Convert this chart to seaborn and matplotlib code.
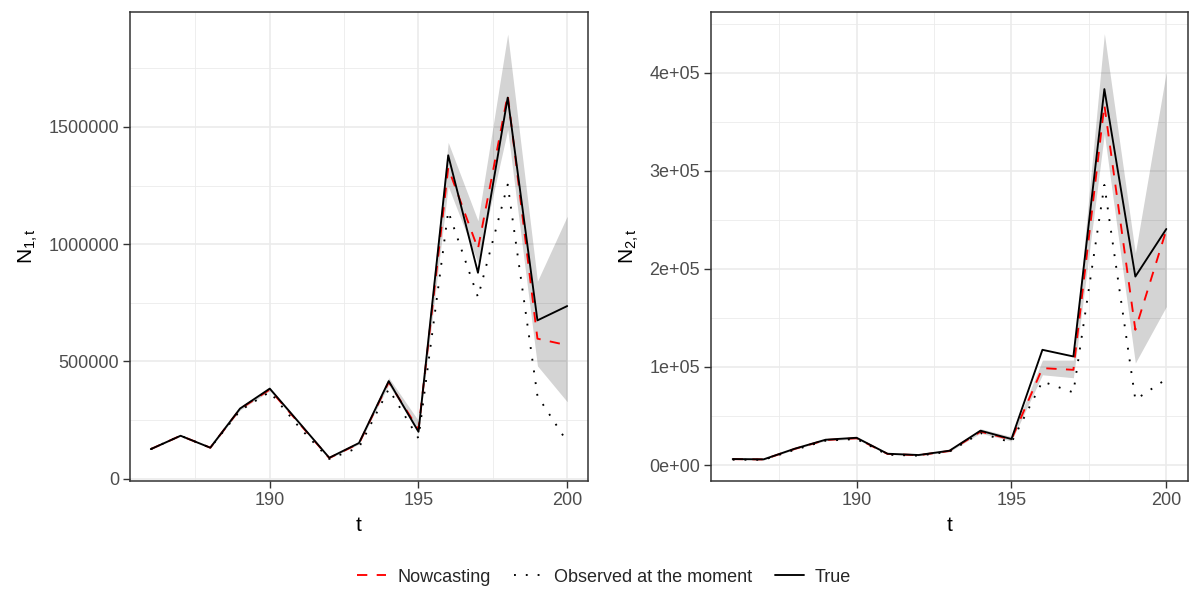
import numpy as np
import pandas as pd
import matplotlib
matplotlib.use("Agg")
import matplotlib.pyplot as plt
from matplotlib.lines import Line2D
from matplotlib.ticker import FixedLocator
import seaborn as sns

# ---------------- data ----------------
t = [186, 187, 188, 189, 190, 191, 192, 193, 194, 195, 196, 197, 198, 199, 200]

n1_true = [126000, 183000, 132000, 299000, 384000, 237000, 89000, 152000, 416000, 200000,
           1379000, 878000, 1625000, 675000, 736000]
n1_now = [126000, 183000, 132000, 297000, 380000, 234000, 88000, 150000, 412000, 210000,
          1325000, 980000, 1637000, 597000, 569000]
n1_obs = [126000, 183000, 132000, 290000, 370000, 218000, 84000, 133000, 382000, 172000,
          1140000, 774000, 1254000, 353000, 157000]
n1_lo = [124000, 181000, 130000, 292000, 375000, 230000, 86000, 147000, 400000, 195000,
         1247000, 920000, 1488000, 481000, 328000]
n1_hi = [128000, 185000, 134000, 302000, 386000, 239000, 91000, 155000, 431000, 247000,
         1434000, 1100000, 1896000, 842000, 1119000]

n2_true = [6100, 5800, 16600, 25800, 27800, 11500, 10200, 14600, 35000, 26500,
           117500, 110700, 383400, 192200, 240700]
n2_now = [6000, 5700, 16400, 25500, 27300, 11300, 10000, 14300, 34000, 26000,
          98800, 97100, 367100, 137900, 239700]
n2_obs = [5400, 5300, 15500, 24800, 26500, 10500, 9500, 13600, 32600, 23000,
          85200, 74000, 285600, 66600, 87600]
n2_lo = [5500, 5200, 15800, 24800, 26500, 10800, 9500, 13600, 32500, 24500,
         92000, 89000, 338000, 104000, 161600]
n2_hi = [6600, 6300, 17200, 26500, 28500, 12200, 10800, 15300, 37000, 29000,
         107000, 107000, 440000, 216000, 401000]

series_names = ["Nowcasting", "Observed at the moment", "True"]
y1_ticks = [0, 500000, 1000000, 1500000]
y1_labels = ["0", "500000", "1000000", "1500000"]
y2_ticks = [0, 100000, 200000, 300000, 400000]
y2_labels = ["0e+00", "1e+05", "2e+05", "3e+05", "4e+05"]
x_ticks = [190, 195, 200]

# ---------------- style ----------------
sns.set_theme(style="white")
plt.rcParams["font.family"] = ["Liberation Sans", "DejaVu Sans"]
plt.rcParams["mathtext.fontset"] = "custom"
plt.rcParams["mathtext.rm"] = "Liberation Sans"
plt.rcParams["mathtext.it"] = "Liberation Sans"

W, H = 1192, 592
fig = plt.figure(figsize=(W / 100, H / 100), dpi=100)

colors = {"Nowcasting": "#FF0000", "Observed at the moment": "black", "True": "black"}
styles = {"Nowcasting": (0, (5.5, 5)), "Observed at the moment": (0, (1, 5.3)), "True": "-"}
LW = 1.35
GRID = "#EBEBEB"
BORDER = "#333333"
TICKC = "#4D4D4D"


def panel(rect, now, obs, tru, lo, hi, ylim, yticks, ylabels, ylab):
    ax = fig.add_axes(rect)
    df = pd.DataFrame({"t": t, "Nowcasting": now, "Observed at the moment": obs, "True": tru,
                       "lo": lo, "hi": hi})
    ax.fill_between(df["t"], df["lo"], df["hi"], color="black", alpha=0.17, lw=0, zorder=2)
    for name in series_names:
        sns.lineplot(data=df, x="t", y=name, ax=ax, color=colors[name], lw=LW,
                     linestyle=styles[name], zorder=3, legend=False)
    ax.set_xlim(185.3, 200.7)
    ax.set_ylim(*ylim)
    ax.xaxis.set_major_locator(FixedLocator(x_ticks))
    ax.xaxis.set_minor_locator(FixedLocator([187.5, 192.5, 197.5]))
    ax.yaxis.set_major_locator(FixedLocator(yticks))
    step = yticks[1] - yticks[0]
    minors = [v + step / 2 for v in [yticks[0] - step] + yticks]
    ax.yaxis.set_minor_locator(FixedLocator(minors))
    ax.set_yticklabels(ylabels)
    ax.grid(True, which="major", color=GRID, lw=1.2, zorder=0)
    ax.grid(True, which="minor", color=GRID, lw=0.6, zorder=0)
    ax.set_axisbelow(True)
    for s in ax.spines.values():
        s.set_color(BORDER)
        s.set_linewidth(1.1)
    ax.tick_params(axis="both", which="major", length=4.8, width=1.0, color=BORDER,
                   labelsize=13, labelcolor=TICKC, pad=3.0, direction="out",
                   bottom=True, left=True)
    ax.tick_params(axis="both", which="minor", length=0)
    ax.set_xlabel("t", fontsize=15, color="black", labelpad=5)
    ax.set_ylabel(ylab, fontsize=15, color="black", labelpad=6)
    return ax


ax1 = panel([130 / W, 1 - 481 / H, (588 - 130) / W, (481 - 12) / H],
            n1_now, n1_obs, n1_true, n1_lo, n1_hi, (-10000, 1990000),
            y1_ticks, y1_labels, r"$\mathrm{N}_{1,t}$")
ax2 = panel([711 / W, 1 - 481 / H, (1188 - 711) / W, (481 - 12) / H],
            n2_now, n2_obs, n2_true, n2_lo, n2_hi, (-16300, 462000),
            y2_ticks, y2_labels, r"$\mathrm{N}_{2,t}$")

handles = [Line2D([0], [0], color=colors[n], lw=LW, linestyle=styles[n]) for n in series_names]
fig.legend(handles, series_names, loc="center", bbox_to_anchor=(0.507, 1 - 577 / H), ncol=3,
           frameon=False, fontsize=13, handlelength=1.6, handletextpad=0.6, columnspacing=1.3)

fig.savefig("out.png", dpi=100)
